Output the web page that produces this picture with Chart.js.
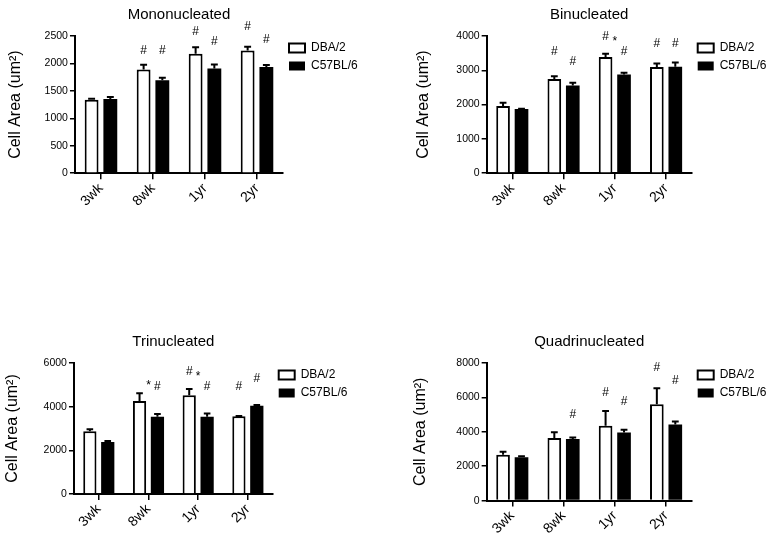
<!DOCTYPE html>
<html>
<head>
<meta charset="utf-8">
<script src="https://cdn.jsdelivr.net/npm/chart.js@4.4.0/dist/chart.umd.min.js"></script>
<style>
  html, body { margin: 0; padding: 0; background: #fff; }
  body { width: 780px; height: 541px; position: relative; overflow: hidden; }
  canvas { position: absolute; }
</style>
</head>
<body>
<canvas id="mono"></canvas>
<canvas id="bin"></canvas>
<canvas id="tri"></canvas>
<canvas id="quad"></canvas>
<script>
const ageGroups = ['3wk', '8wk', '1yr', '2yr'];
const strainNames = ['DBA/2', 'C57BL/6'];

// Mononucleated
const monoDba = [1340, 1890, 2175, 2235];
const monoDbaSem = [15, 85, 120, 70];
const monoC57 = [1350, 1695, 1910, 1935];
const monoC57Sem = [40, 45, 70, 35];
const monoDbaHash = [null, 2228, 2573, 2664];
const monoC57Hash = [null, 2228, 2391, 2440];
const monoStar = [null, null, null, null];
const monoTicks = [0, 500, 1000, 1500, 2000, 2500];

// Binucleated
const binDba = [1960, 2750, 3385, 3095];
const binDbaSem = [95, 75, 95, 105];
const binC57 = [1870, 2560, 2880, 3105];
const binC57Sem = [10, 80, 50, 125];
const binDbaHash = [null, 3555, 3991, 3779];
const binC57Hash = [null, 3244, 3535, 3779];
const binStar = [null, null, 3820, null];
const binTicks = [0, 1000, 2000, 3000, 4000];

// Trinucleated
const triDba = [2870, 4260, 4520, 3560];
const triDbaSem = [90, 350, 290, 15];
const triC57 = [2380, 3540, 3540, 4045];
const triC57Sem = [45, 125, 140, 30];
const triDbaHash = [null, null, 5589, 4904];
const triC57Hash = [null, 4904, 4904, 5287];
const triStar = [null, 4960, 5356, null];
const triTicks = [0, 2000, 4000, 6000];

// Quadrinucleated
const quadDba = [2660, 3640, 4350, 5595];
const quadDbaSem = [175, 330, 855, 930];
const quadC57 = [2525, 3575, 3960, 4430];
const quadC57Sem = [60, 95, 155, 170];
const quadDbaHash = [null, null, 6285, 7706];
const quadC57Hash = [null, 4988, 5762, 6984];
const quadStar = [null, null, null, null];
const quadTicks = [0, 2000, 4000, 6000, 8000];

const FONT = '"Liberation Sans", Arial, Helvetica, sans-serif';

// error bars (SEM, upward only) and significance marks
const errorBarsAndMarks = {
  id: 'errorBarsAndMarks',
  afterDatasetsDraw(chart, args, opts) {
    const ctx = chart.ctx;
    const y = chart.scales.y;
    const x = chart.scales.x;
    ctx.save();
    ctx.strokeStyle = '#000';
    ctx.fillStyle = '#000';
    ctx.lineWidth = 2;
    ctx.font = '12px ' + FONT;
    ctx.textAlign = 'center';
    ctx.textBaseline = 'middle';
    chart.data.datasets.forEach((ds, i) => {
      chart.getDatasetMeta(i).data.forEach((bar, j) => {
        const top = y.getPixelForValue(ds.data[j] + ds.sem[j]);
        const half = bar.width * 0.25;
        ctx.beginPath();
        ctx.moveTo(bar.x, bar.y);
        ctx.lineTo(bar.x, top);
        ctx.moveTo(bar.x - half, top);
        ctx.lineTo(bar.x + half, top);
        ctx.stroke();
        if (ds.hash[j] != null) {
          ctx.fillText('#', bar.x, y.getPixelForValue(ds.hash[j]));
        }
      });
    });
    (opts.star || []).forEach((v, j) => {
      if (v != null) ctx.fillText('*', x.getPixelForValue(j), y.getPixelForValue(v));
    });
    ctx.restore();
  }
};

function makePanel(id, box, title, dba, dbaSem, dbaHash, c57, c57Sem, c57Hash, star, ticks) {
  const canvas = document.getElementById(id);
  canvas.width = box.w;
  canvas.height = box.h;
  canvas.style.left = box.x + 'px';
  canvas.style.top = box.y + 'px';
  return new Chart(canvas, {
    type: 'bar',
    data: {
      labels: ageGroups,
      datasets: [
        {
          label: strainNames[0], data: dba, sem: dbaSem, hash: dbaHash,
          backgroundColor: '#fff', borderColor: '#000', borderWidth: 2,
          categoryPercentage: 0.72, barPercentage: 0.74
        },
        {
          label: strainNames[1], data: c57, sem: c57Sem, hash: c57Hash,
          backgroundColor: '#000', borderColor: '#000', borderWidth: 0,
          categoryPercentage: 0.72, barPercentage: 0.74
        }
      ]
    },
    options: {
      responsive: false,
      animation: false,
      layout: { padding: box.pad },
      plugins: {
        title: {
          display: true, text: title, color: '#000', fullSize: false,
          font: { family: FONT, size: 15, weight: 'normal' },
          padding: { top: 6, bottom: 12 }
        },
        legend: {
          position: 'right', align: 'start', fullSize: false,
          labels: {
            boxWidth: 16, boxHeight: 9, padding: 6, color: '#000',
            font: { family: FONT, size: 12 }
          }
        },
        tooltip: { enabled: false },
        errorBarsAndMarks: { star: star }
      },
      scales: {
        x: {
          offset: true,
          grid: { drawOnChartArea: false, offset: false, tickLength: 6, color: '#000', lineWidth: 1.5 },
          border: { color: '#000', width: 2 },
          ticks: { color: '#000', font: { family: FONT, size: 14 }, minRotation: 45, maxRotation: 45, padding: 1 }
        },
        y: {
          min: ticks[0],
          max: ticks[ticks.length - 1],
          afterBuildTicks: axis => { axis.ticks = ticks.map(v => ({ value: v })); },
          grid: { drawOnChartArea: false, tickLength: 5, color: '#000', lineWidth: 1.5 },
          border: { color: '#000', width: 2 },
          ticks: { color: '#000', font: { family: FONT, size: 10.5 }, padding: 2, callback: v => String(v) },
          title: {
            display: true, text: 'Cell Area (um²)', color: '#000',
            font: { family: FONT, size: 16 },
            padding: { top: 2, bottom: box.gap }
          }
        }
      }
    },
    plugins: [errorBarsAndMarks]
  });
}

makePanel('mono', { x: 0, y: 0, w: 385, h: 270, gap: 17, pad: { left: 4.4, right: 17.3, top: 0, bottom: 59.3 } },
  'Mononucleated', monoDba, monoDbaSem, monoDbaHash, monoC57, monoC57Sem, monoC57Hash, monoStar, monoTicks);
makePanel('bin', { x: 408, y: 0, w: 372, h: 270, gap: 21, pad: { left: 4.1, right: 3.6, top: 0, bottom: 59.3 } },
  'Binucleated', binDba, binDbaSem, binDbaHash, binC57, binC57Sem, binC57Hash, binStar, binTicks);
makePanel('tri', { x: 0, y: 327, w: 385, h: 214, gap: 19, pad: { left: 1.4, right: 27.6, top: 0, bottom: 9.6 } },
  'Trinucleated', triDba, triDbaSem, triDbaHash, triC57, triC57Sem, triC57Hash, triStar, triTicks);
makePanel('quad', { x: 408, y: 327, w: 372, h: 214, gap: 24, pad: { left: 1.1, right: 3.6, top: 0, bottom: 2.9 } },
  'Quadrinucleated', quadDba, quadDbaSem, quadDbaHash, quadC57, quadC57Sem, quadC57Hash, quadStar, quadTicks);
</script>
</body>
</html>
